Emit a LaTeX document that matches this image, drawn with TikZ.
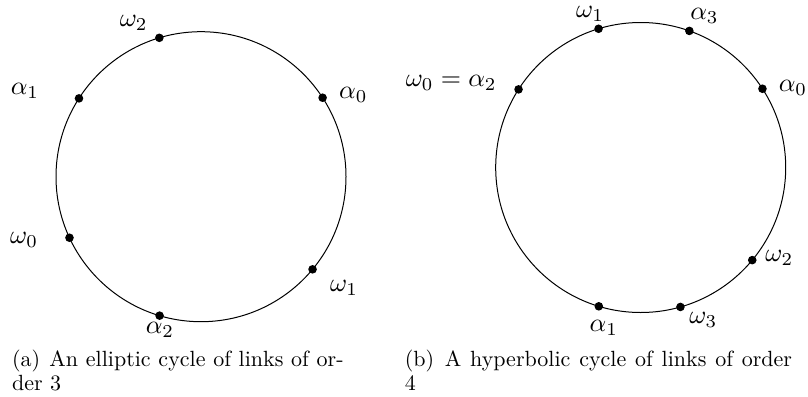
\documentclass[tikz,border=0pt]{standalone}
\usetikzlibrary{calc}
\newcommand{\lb}[1]{\scalebox{1.3}{$#1$}}
\newcommand{\cp}[1]{\scalebox{1.1}{#1}}
\begin{document}
\begin{tikzpicture}[x=0.5pt,y=-0.5pt,
  rim/.style={draw=black,line width=0.5pt},
  dot/.style={circle,fill=black,inner sep=0pt,minimum size=4.3pt},
  lbl/.style={inner sep=0pt},
  captext/.style={inner sep=0pt,anchor=base west}]
\useasboundingbox (0,0) rectangle (808,396);
% left circle
\coordinate (cL) at (201,176.7);
\draw[rim] (cL) circle[radius=72.5pt];
\node[dot] (La0) at ($(cL)+(33:72.5pt)$) {};
\node[dot] (Lw2) at ($(cL)+(106.7:72.5pt)$) {};
\node[dot] (La1) at ($(cL)+(147.3:72.5pt)$) {};
\node[dot] (Lw0) at ($(cL)+(204.9:72.5pt)$) {};
\node[dot] (La2) at ($(cL)+(253.4:72.5pt)$) {};
\node[dot] (Lw1) at ($(cL)+(320.3:72.5pt)$) {};
\node[lbl] (La0t) at (353.3,95) {\lb{\alpha_0}};
\node[lbl] (Lw2t) at (133.7,23.3) {\lb{\omega_2}};
\node[lbl] (La1t) at (25,91.3) {\lb{\alpha_1}};
\node[lbl] (Lw0t) at (24,239.7) {\lb{\omega_0}};
\node[lbl] (La2t) at (160,329.5) {\lb{\alpha_2}};
\node[lbl] (Lw1t) at (344,288) {\lb{\omega_1}};
% right circle
\coordinate (cR) at (640.7,167.5);
\draw[rim] (cR) circle[radius=72.5pt];
\node[dot] (Ra0) at ($(cR)+(32.9:72.5pt)$) {};
\node[dot] (Ra3) at ($(cR)+(70.4:72.5pt)$) {};
\node[dot] (Rw1) at ($(cR)+(106.9:72.5pt)$) {};
\node[dot] (Rw0) at ($(cR)+(147.4:72.5pt)$) {};
\node[dot] (Ra1) at ($(cR)+(253.2:72.5pt)$) {};
\node[dot] (Rw3) at ($(cR)+(285.9:72.5pt)$) {};
\node[dot] (Rw2) at ($(cR)+(320.3:72.5pt)$) {};
\node[lbl] (Ra0t) at (793,87.5) {\lb{\alpha_0}};
\node[lbl] (Ra3t) at (704.5,15.5) {\lb{\alpha_3}};
\node[lbl] (Rw1t) at (590,14) {\lb{\omega_1}};
\node[lbl] (Rw0t) at (451.2,83) {\lb{\omega_0=\alpha_2}};
\node[lbl] (Ra1t) at (603.8,328) {\lb{\alpha_1}};
\node[lbl] (Rw3t) at (703.3,320.3) {\lb{\omega_3}};
\node[lbl] (Rw2t) at (779.3,258) {\lb{\omega_2}};
% captions
\node[captext] (capA1) at (11.7,366) {\cp{\makebox[150.7pt][s]{(a)\hspace{4pt plus 2pt}An elliptic cycle of links of or-}}};
\node[captext] (capA2) at (11.7,390) {\cp{der 3}};
\node[captext] (capB1) at (404.5,366) {\cp{\makebox[176pt][s]{(b)\hspace{4pt plus 2pt}A hyperbolic cycle of links of order}}};
\node[captext] (capB2) at (404.5,390) {\cp{4}};
\end{tikzpicture}
\end{document}
